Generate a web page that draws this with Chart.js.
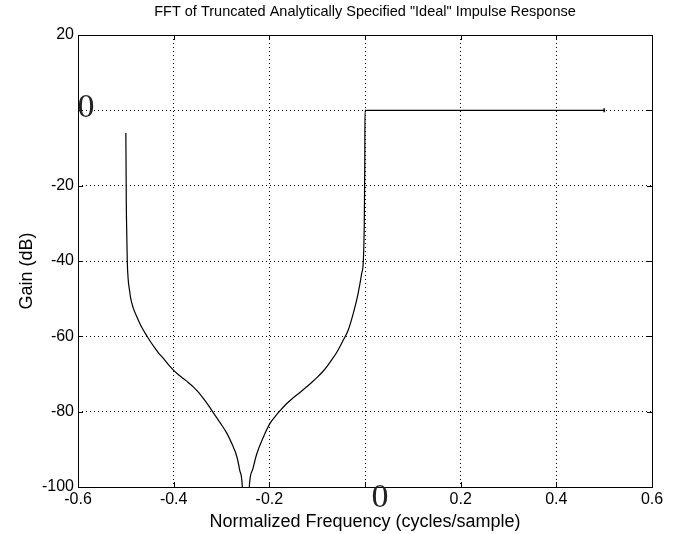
<!DOCTYPE html>
<html>
<head>
<meta charset="utf-8">
<script src="https://cdn.jsdelivr.net/npm/chart.js@4/dist/chart.umd.min.js"></script>
<style>
    html, body { margin: 0; padding: 0; background: #fff; }
    #wrap { width: 677px; height: 534px; }
</style>
</head>
<body>
<div id="wrap"><canvas id="chart"></canvas></div>
<script>
// ── Data ────────────────────────────────────────────────────────────────────

const freq = [
    -0.5, -0.4995, -0.499, -0.498, -0.497, -0.495, -0.492, -0.49, -0.485,
    -0.477, -0.471, -0.465, -0.456, -0.448, -0.441, -0.431, -0.421, -0.411, -0.401,
    -0.39, -0.38, -0.369, -0.359, -0.348, -0.338, -0.327, -0.317, -0.310, -0.303,
    -0.289, -0.278, -0.268, -0.262, -0.2565, -0.25, -0.242, -0.234, -0.2265,
    -0.213, -0.1986, -0.188, -0.178, -0.164, -0.15, -0.136, -0.122, -0.111,
    -0.10, -0.09, -0.08, -0.07, -0.0592, -0.0454, -0.035, -0.0245, -0.015,
    -0.0069, -0.0035, -0.0015, -0.0005, 0, 0.5,
];
const gainDb = [
    -6, -15, -25, -33, -40, -45, -48, -49.8, -52.3,
    -54.8, -56.5, -58.0, -59.9, -61.5, -62.8, -64.5, -65.9, -67.5, -68.9,
    -70.2, -71.2, -72.3, -73.4, -74.9, -76.5, -78.4, -80.3, -81.6, -82.9,
    -85.7, -88.6, -91.9, -95.5, -99.9, -125, -100, -95, -91.3,
    -86.9, -83.1, -81.3, -79.8, -77.9, -76.3, -74.9, -73.4, -72.2,
    -70.9, -69.6, -68.1, -66.3, -64.3, -61.0, -58.3, -53.9, -49,
    -43.3, -40, -30, -15, 0, 0,
];
const xTicks = [-0.6, -0.4, -0.2, 0, 0.2, 0.4, 0.6];
const yTicks = [20, 0, -20, -40, -60, -80, -100];

const TITLE = 'FFT of Truncated Analytically Specified "Ideal" Impulse Response';
const X_LABEL = 'Normalized Frequency (cycles/sample)';
const Y_LABEL = 'Gain (dB)';

const SANS = '"Liberation Sans", Arial, Helvetica, sans-serif';
const SERIF = '"Liberation Serif", "Times New Roman", serif';

// ── Plugins ─────────────────────────────────────────────────────────────────

// solid box round the plot, plus MATLAB-style inward tick marks
const framePlugin = {
    id: 'frame',
    afterDatasetsDraw(chart) {
        const { ctx, chartArea: a, scales } = chart;
        ctx.save();
        ctx.strokeStyle = '#000';
        ctx.lineWidth = 1;
        ctx.strokeRect(a.left + 0.5, a.top + 0.5, a.right - a.left, a.bottom - a.top);
        ctx.beginPath();
        xTicks.forEach(v => {
            const px = Math.round(scales.x.getPixelForValue(v)) + 0.5;
            ctx.moveTo(px, a.bottom); ctx.lineTo(px, a.bottom - 5);
            ctx.moveTo(px, a.top); ctx.lineTo(px, a.top + 5);
        });
        yTicks.forEach(v => {
            const py = Math.round(scales.y.getPixelForValue(v)) + 0.5;
            ctx.moveTo(a.left, py); ctx.lineTo(a.left + 5, py);
            ctx.moveTo(a.right, py); ctx.lineTo(a.right - 5, py);
        });
        ctx.stroke();
        ctx.restore();
    },
};

// title centred over the plot box and the y label, placed like MATLAB does
const labelsPlugin = {
    id: 'labels',
    afterDraw(chart) {
        const { ctx, chartArea: a, scales } = chart;
        ctx.save();
        ctx.fillStyle = '#000';
        ctx.textAlign = 'center';
        ctx.textBaseline = 'middle';

        ctx.font = `14.5px ${SANS}`;
        ctx.fillText(TITLE, (a.left + a.right) / 2, 12);

        ctx.save();
        ctx.font = `18px ${SANS}`;
        ctx.translate(27, (a.top + a.bottom) / 2 + 10);
        ctx.rotate(-Math.PI / 2);
        ctx.fillText(Y_LABEL, 0, 0);
        ctx.restore();

        // the two zero labels are drawn in a big serif face in the original
        ctx.fillStyle = '#222';
        ctx.font = `34px ${SERIF}`;
        ctx.fillText('0', a.left + 8, scales.y.getPixelForValue(0) - 2);
        ctx.fillText('0', scales.x.getPixelForValue(0) + 15, a.bottom + 11);
        ctx.restore();
    },
};

// ── Chart ───────────────────────────────────────────────────────────────────

const points = freq.map((f, i) => ({ x: f, y: gainDb[i] }));
const lastIdx = points.length - 1;

const fmtTick = v => (Math.abs(v) < 1e-9 ? '' : String(Math.round(v * 10) / 10));

const gridOpts = { color: '#000', lineWidth: 1, drawTicks: false };
const borderOpts = { display: false, dash: [1, 3] };

new Chart(document.getElementById('chart'), {
    type: 'line',
    data: {
        datasets: [{
            data: points,
            borderColor: '#000',
            borderWidth: 1.2,
            cubicInterpolationMode: 'monotone',
            fill: false,
            pointStyle: 'line',
            rotation: 90,
            pointBorderColor: '#000',
            pointBorderWidth: 1.5,
            pointRadius: ctx => (ctx.dataIndex === lastIdx ? 2 : 0),
        }],
    },
    options: {
        responsive: true,
        maintainAspectRatio: false,
        animation: false,
        events: [],
        layout: { padding: { left: 0, right: 25, top: 35, bottom: 0 } },
        plugins: {
            legend: { display: false },
            tooltip: { enabled: false },
            title: { display: false },
        },
        scales: {
            x: {
                type: 'linear',
                min: -0.6,
                max: 0.6,
                afterBuildTicks: scale => { scale.ticks = xTicks.map(value => ({ value })); },
                afterFit: scale => { scale.height = 47; },
                border: borderOpts,
                grid: gridOpts,
                ticks: {
                    callback: fmtTick,
                    color: '#000',
                    padding: 3,
                    maxRotation: 0,
                    font: { family: SANS, size: 16 },
                },
                title: {
                    display: true,
                    text: X_LABEL,
                    color: '#000',
                    font: { family: SANS, size: 18 },
                    padding: { top: 0, bottom: 1 },
                },
            },
            y: {
                type: 'linear',
                min: -100,
                max: 20,
                afterBuildTicks: scale => { scale.ticks = yTicks.map(value => ({ value })); },
                afterFit: scale => { scale.width = 78; },
                border: borderOpts,
                grid: gridOpts,
                ticks: {
                    callback: fmtTick,
                    color: '#000',
                    padding: 4,
                    font: { family: SANS, size: 16 },
                },
            },
        },
    },
    plugins: [framePlugin, labelsPlugin],
});
</script>
</body>
</html>
